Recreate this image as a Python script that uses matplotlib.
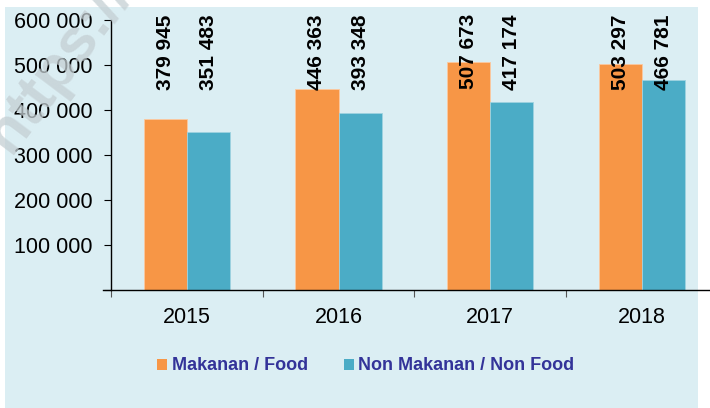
import numpy as np
import matplotlib
matplotlib.use('Agg')
import matplotlib.pyplot as plt
from matplotlib.patches import Patch, Rectangle

plt.rcParams['font.family'] = ['Liberation Sans', 'DejaVu Sans']

years = ['2015', '2016', '2017', '2018']
food = [379945, 446363, 507673, 503297]
non_food = [351483, 393348, 417174, 466781]
y_ticks = [0, 100000, 200000, 300000, 400000, 500000, 600000]
y_labels = ['', '100 000', '200 000', '300 000', '400 000', '500 000', '600 000']

c_food = '#F79646'
c_nonfood = '#4BACC6'
bg = '#DBEEF3'

fig = plt.figure(figsize=(7.1, 4.08), dpi=100)
fig.patch.set_facecolor('white')
fig.patches.append(Rectangle((5/710, 0), 693/710, 401/408, transform=fig.transFigure,
                             facecolor=bg, edgecolor='none', zorder=-10))

# watermark
fig.text(-0.035, 0.60, 'https://', rotation=53, fontsize=44, fontweight='bold',
         color='#c4cfd3', alpha=0.75, ha='left', va='bottom')

ax = fig.add_axes([111/710, 118/408, 606.7/710, 270/408])
ax.set_facecolor('none')

x = np.arange(len(years))
w = 0.285
ax.bar(x - w/2, food, width=w, color=c_food, edgecolor='#fbc9a0', linewidth=0.6)
ax.bar(x + w/2, non_food, width=w, color=c_nonfood, edgecolor='#9fd3e0', linewidth=0.6)

for i in range(len(years)):
    ax.text(x[i] - w/2, 613000, '{:,}'.format(food[i]).replace(',', ' '), rotation=90,
            ha='center', va='top', fontsize=15, fontweight='bold', clip_on=False)
    ax.text(x[i] + w/2, 613000, '{:,}'.format(non_food[i]).replace(',', ' '), rotation=90,
            ha='center', va='top', fontsize=15, fontweight='bold', clip_on=False)

ax.set_xlim(-0.5, 3.5)
ax.set_ylim(0, 600000)
ax.set_yticks(y_ticks)
ax.set_yticklabels(y_labels, fontsize=15.5)
ax.tick_params(axis='y', length=5, width=0.8, pad=8.5)

ax.set_xticks(np.arange(-0.5, 4.0, 1.0))
ax.set_xticklabels([])
ax.set_xticks(x, minor=True)
ax.set_xticklabels(years, minor=True, fontsize=15.5)
ax.tick_params(axis='x', which='major', length=5, width=0.8, color='#555555')
ax.tick_params(axis='x', which='minor', length=0, pad=12)

for s in ['top', 'right']:
    ax.spines[s].set_visible(False)
ax.spines['left'].set_linewidth(1.0)
ax.spines['bottom'].set_linewidth(1.0)
ax.spines['bottom'].set_bounds(-0.55, 3.5)

handles = [Patch(facecolor=c_food, edgecolor='none', label='Makanan / Food'),
           Patch(facecolor=c_nonfood, edgecolor='none', label='Non Makanan / Non Food')]
leg = fig.legend(handles=handles, loc='center', bbox_to_anchor=(366/710, 42/408), ncol=2,
                 frameon=False, handlelength=0.55, handleheight=0.55, handletextpad=0.25,
                 columnspacing=2.0, prop={'size': 13, 'weight': 'bold'})
for t in leg.get_texts():
    t.set_color('#333399')

fig.savefig('out.png', dpi=100, facecolor=fig.get_facecolor())
